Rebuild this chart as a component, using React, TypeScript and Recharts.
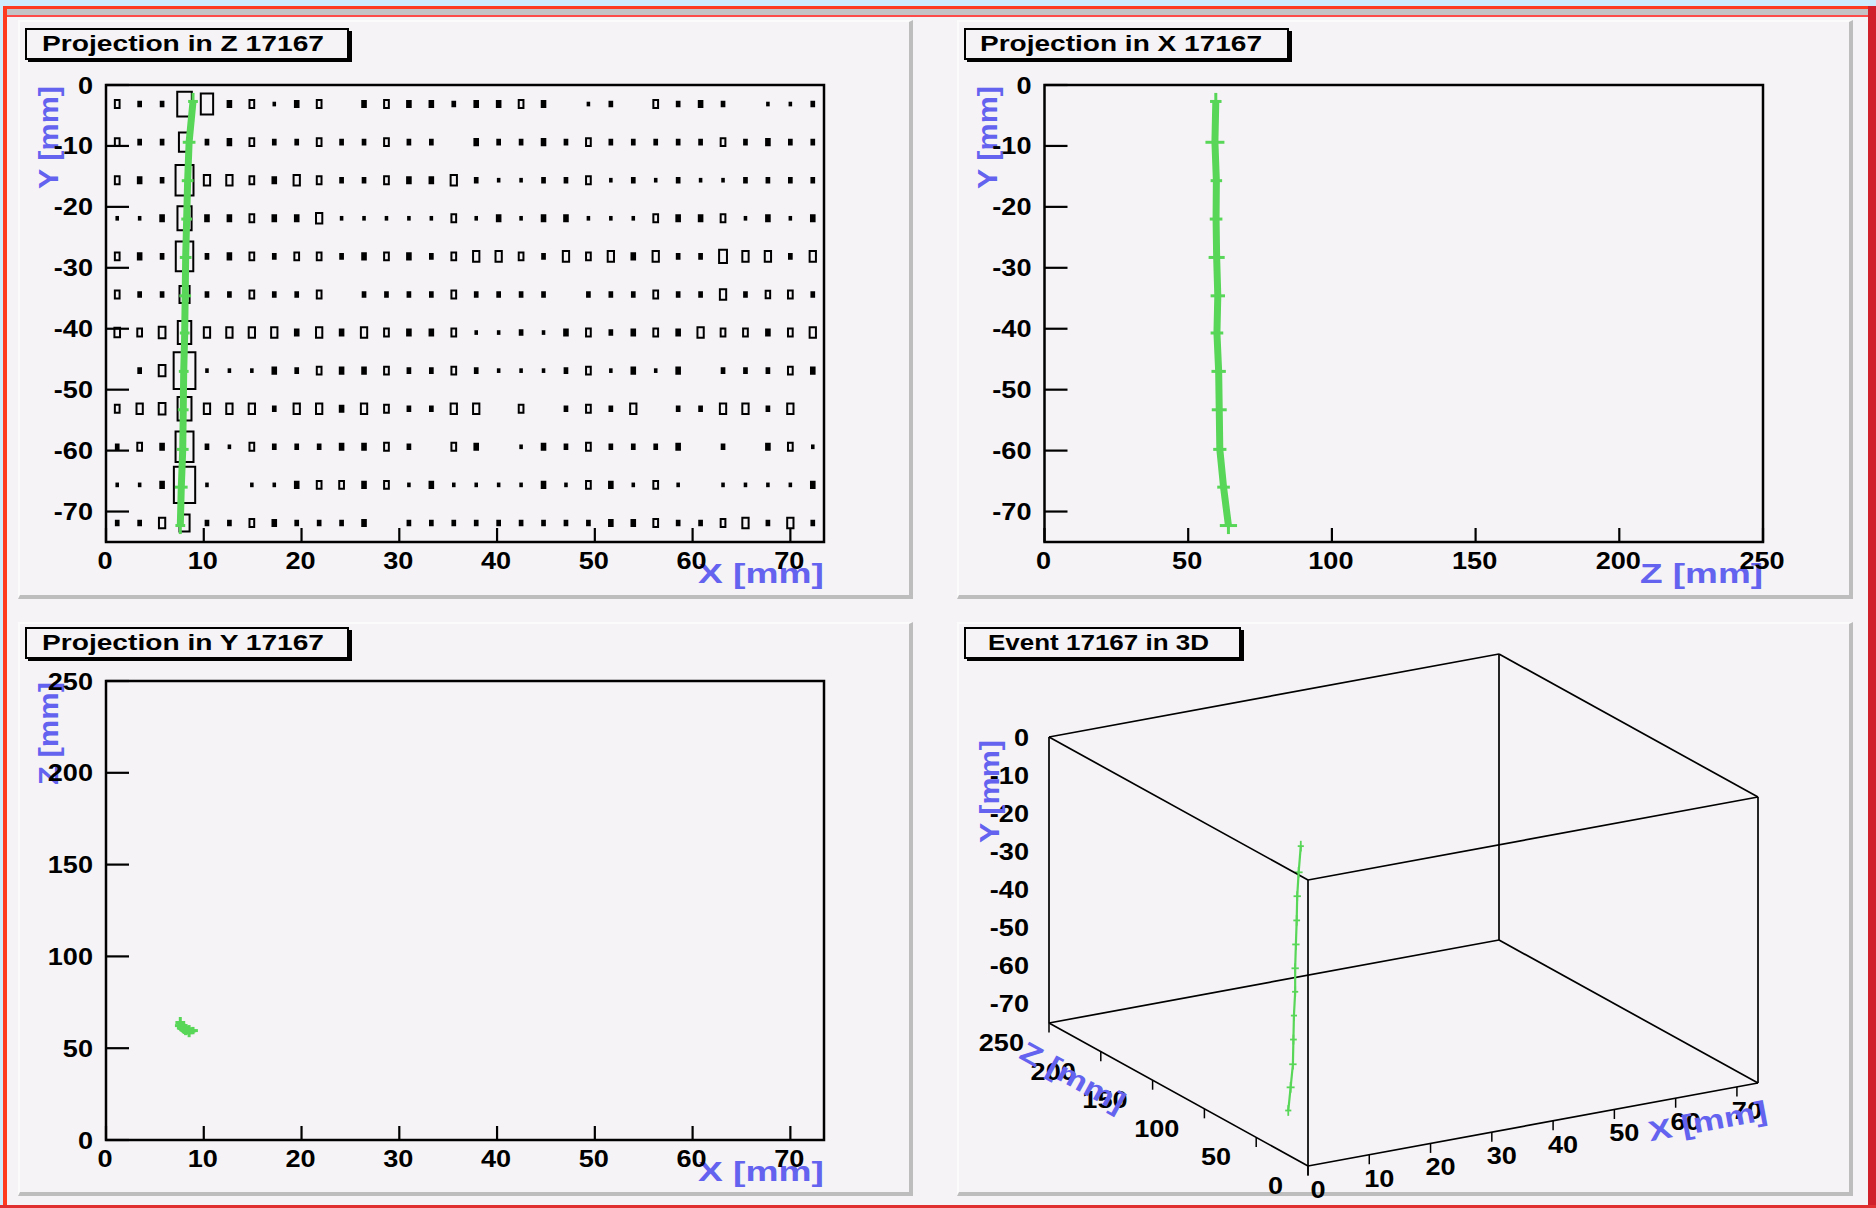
import React from "react";
import { ScatterChart, Scatter, XAxis, YAxis, ErrorBar, ReferenceArea } from "recharts";

// detector ranges (mm) and histogram binning
const X_MAX = 73.44;
const Y_MIN = -75;
const Z_MAX = 250;
const X_BIN = 2.295;
const Y_BIN = 6.25;

// box size per pad (fraction of the bin), one array per Y row from the top
const row01 = [0.21, 0.12, 0.12, 0.65, 0.55, 0.16, 0.21, 0.07, 0.16, 0.21, 0, 0.16, 0.21, 0.16, 0.16, 0.12, 0.16, 0.16, 0.21, 0.16, 0, 0.07, 0.12, 0, 0.21, 0.12, 0.16, 0.12, 0, 0.07, 0.07, 0.12];
const row02 = [0.21, 0.12, 0.12, 0.5, 0.12, 0.16, 0.21, 0.12, 0.12, 0.21, 0.12, 0.12, 0.21, 0.12, 0.12, 0, 0.16, 0.12, 0.12, 0.16, 0.12, 0.21, 0.12, 0.12, 0.12, 0.12, 0.12, 0.21, 0.12, 0.16, 0.12, 0.12];
const row03 = [0.21, 0.16, 0.12, 0.8, 0.28, 0.28, 0.21, 0.16, 0.28, 0.21, 0.12, 0.12, 0.21, 0.16, 0.16, 0.28, 0.12, 0.07, 0.07, 0.12, 0.12, 0.21, 0.07, 0.12, 0.07, 0.12, 0.07, 0.07, 0.12, 0.12, 0.12, 0.12];
const row04 = [0.07, 0.07, 0.16, 0.63, 0.16, 0.16, 0.21, 0.16, 0.16, 0.28, 0.07, 0.07, 0.07, 0.07, 0.07, 0.21, 0.07, 0.16, 0.07, 0.16, 0.16, 0.07, 0.07, 0.07, 0.21, 0.16, 0.16, 0.21, 0.07, 0.16, 0.07, 0.16];
const row05 = [0.21, 0.16, 0.12, 0.78, 0.12, 0.16, 0.21, 0.12, 0.21, 0.21, 0.12, 0.16, 0.21, 0.16, 0.12, 0.21, 0.28, 0.28, 0.21, 0.12, 0.28, 0.21, 0.28, 0.16, 0.28, 0.12, 0.12, 0.35, 0.28, 0.28, 0.12, 0.28];
const row06 = [0.21, 0.12, 0.12, 0.45, 0.12, 0.12, 0.21, 0.12, 0.12, 0.21, 0, 0.12, 0.12, 0.12, 0.12, 0.21, 0.12, 0.12, 0.12, 0.12, 0, 0.12, 0.12, 0.12, 0.21, 0.12, 0.12, 0.28, 0.12, 0.2, 0.21, 0.12];
const row07 = [0.25, 0.21, 0.3, 0.6, 0.28, 0.28, 0.28, 0.28, 0.16, 0.28, 0.16, 0.28, 0.21, 0.16, 0.16, 0.21, 0.07, 0.07, 0.12, 0.07, 0.16, 0.21, 0.12, 0.16, 0.21, 0.16, 0.28, 0.21, 0.21, 0.16, 0.21, 0.28];
const row08 = [0, 0.12, 0.3, 0.97, 0.07, 0.07, 0.07, 0.16, 0.12, 0.21, 0.16, 0.16, 0.21, 0.12, 0.12, 0.21, 0.12, 0.07, 0.07, 0.07, 0.12, 0.21, 0.07, 0.16, 0.07, 0.16, 0, 0.12, 0.12, 0.12, 0.21, 0.16];
const row09 = [0.21, 0.28, 0.3, 0.62, 0.28, 0.28, 0.28, 0.12, 0.28, 0.28, 0.16, 0.28, 0.21, 0.12, 0.12, 0.28, 0.28, 0, 0.21, 0, 0.12, 0.21, 0.12, 0.28, 0, 0.12, 0.12, 0.28, 0.28, 0.12, 0.28, 0];
const row10 = [0.12, 0.21, 0.16, 0.8, 0.12, 0.07, 0.21, 0.12, 0.12, 0.12, 0.16, 0.16, 0.21, 0.12, 0, 0.21, 0.16, 0, 0.07, 0.16, 0.12, 0.21, 0.12, 0.12, 0.12, 0.16, 0, 0.12, 0, 0.16, 0.21, 0.07];
const row11 = [0.07, 0.07, 0.16, 0.95, 0.07, 0, 0.07, 0.07, 0.16, 0.21, 0.21, 0.16, 0.21, 0.07, 0.16, 0.07, 0.07, 0.07, 0.07, 0.16, 0.07, 0.21, 0.16, 0.07, 0.21, 0.07, 0, 0.07, 0.07, 0.07, 0.07, 0.16];
const row12 = [0.12, 0.12, 0.28, 0.45, 0.12, 0.12, 0.21, 0.16, 0.12, 0.12, 0.12, 0.16, 0, 0.12, 0.12, 0.12, 0.12, 0.12, 0.12, 0.12, 0.12, 0.12, 0.16, 0.16, 0.21, 0.12, 0.12, 0.21, 0.28, 0.12, 0.28, 0.12];
const boxRows = [row01, row02, row03, row04, row05, row06, row07, row08, row09, row10, row11, row12];

// reconstructed track hits
const hitY = [-2.7, -9.4, -15.7, -22.0, -28.3, -34.6, -40.7, -47.0, -53.3, -59.8, -66.0, -72.3];
const hitX = [8.9, 8.5, 8.35, 8.25, 8.15, 8.1, 8.05, 7.95, 7.9, 7.85, 7.7, 7.6];
const hitZ = [59.6, 59.3, 59.8, 59.7, 59.9, 60.3, 60.0, 60.6, 60.8, 61.0, 62.3, 64.0];
const errX = [0.5, 0.65, 0.6, 0.55, 0.6, 0.6, 0.5, 0.5, 0.55, 0.6, 0.65, 0.5];
const errY = [1.4, 1.4, 1.3, 1.4, 1.4, 1.3, 1.4, 1.4, 1.3, 1.4, 1.4, 1.4];
const errZ = [2.0, 3.3, 2.0, 2.2, 2.8, 2.5, 2.2, 2.5, 2.6, 2.3, 2.2, 3.0];

const ticksX = [0, 10, 20, 30, 40, 50, 60, 70];
const ticksY = [0, -10, -20, -30, -40, -50, -60, -70];
const ticksZ = [0, 50, 100, 150, 200, 250];

const BG = "#F6F3F6";
const GREEN = "#58D658";
const BLUE = "#6363EF";
const FONT = '"Liberation Sans", Arial, Helvetica, sans-serif';

const boxes = boxRows.flatMap((row, r) =>
  row
    .map((v, c) => ({ x: (c + 0.5) * X_BIN, y: -(r + 0.5) * Y_BIN, v }))
    .filter((b) => b.v > 0)
);

const trackZ = hitY.map((y, i) => ({ h: hitX[i], v: y, eh: errX[i], ev: errY[i] }));
const trackX = hitY.map((y, i) => ({ h: hitZ[i], v: y, eh: errZ[i], ev: errY[i] }));
const trackY = hitY.map((_, i) => ({ h: hitX[i], v: hitZ[i], eh: errX[i], ev: errZ[i] }));

const noDot = () => <g />;

const TickText = ({ x, y, anchor, children }: any) => (
  <text
    transform={`translate(${x},${y}) scale(1.13,1)`}
    textAnchor={anchor}
    fontSize={24}
    fontWeight="bold"
    fontFamily={FONT}
    fill="#000"
  >
    {children}
  </text>
);

const TitleText = ({ x, y, anchor, angle, len, children }: any) => (
  <text
    transform={`translate(${x},${y}) rotate(${angle})`}
    textAnchor={anchor}
    fontSize={28}
    fontWeight="bold"
    fontFamily={FONT}
    fill={BLUE}
    textLength={len}
    lengthAdjust="spacingAndGlyphs"
  >
    {children}
  </text>
);

const LeftTick = (p: any) => (
  <g>
    <line x1={p.x} x2={p.x + 23} y1={p.y} y2={p.y} stroke="#000" strokeWidth={2.2} />
    <TickText x={p.x - 13} y={p.y + 8.5} anchor="end">{p.payload.value}</TickText>
  </g>
);

const BottomTick = (p: any) => (
  <g>
    <line x1={p.x} x2={p.x} y1={p.y} y2={p.y - 14} stroke="#000" strokeWidth={2.2} />
    <TickText x={p.x - 1} y={p.y + 27} anchor="middle">{p.payload.value}</TickText>
  </g>
);

const Pad2D = ({ pos, xDomain, yDomain, xTicks, yTicks, xTitle, yTitle, xLen, yLen, track, cells }: any) => (
  <div style={{ position: "absolute", left: pos.left, top: pos.top }}>
    <ScatterChart width={pos.width} height={pos.height} margin={pos.margin}>
      <XAxis
        type="number"
        dataKey="h"
        domain={xDomain}
        ticks={xTicks}
        interval={0}
        axisLine={false}
        tickLine={false}
        tickSize={0}
        tickMargin={0}
        height={50}
        tick={(p: any) => <BottomTick {...p} />}
      />
      <YAxis
        type="number"
        dataKey="v"
        domain={yDomain}
        ticks={yTicks}
        interval={0}
        axisLine={false}
        tickLine={false}
        tickSize={0}
        tickMargin={0}
        width={70}
        tick={(p: any) => <LeftTick {...p} />}
      />
      {cells &&
        cells.map((b: any, i: number) => (
          <ReferenceArea
            key={i}
            x1={b.x - (b.v * X_BIN) / 2}
            x2={b.x + (b.v * X_BIN) / 2}
            y1={b.y - (b.v * Y_BIN) / 2}
            y2={b.y + (b.v * Y_BIN) / 2}
            fill={b.v < 0.18 ? "#000" : "none"}
            fillOpacity={1}
            stroke="#000"
            strokeWidth={2}
            strokeOpacity={1}
            ifOverflow="visible"
          />
        ))}
      <ReferenceArea
        x1={xDomain[0]}
        x2={xDomain[1]}
        y1={yDomain[0]}
        y2={yDomain[1]}
        fill="none"
        fillOpacity={0}
        stroke="#000"
        strokeWidth={2.5}
        strokeOpacity={1}
        ifOverflow="visible"
      />
      <Scatter
        data={track}
        fill={GREEN}
        stroke={GREEN}
        strokeWidth={7}
        line={{ stroke: GREEN, strokeWidth: 7 }}
        shape={noDot}
        isAnimationActive={false}
      >
        <ErrorBar dataKey="eh" direction="x" width={0} stroke={GREEN} strokeWidth={3} />
        <ErrorBar dataKey="ev" direction="y" width={0} stroke={GREEN} strokeWidth={3} />
      </Scatter>
      <Scatter
        data={[{ h: xDomain[1], v: yDomain[0] }]}
        isAnimationActive={false}
        shape={(p: any) => (
          <TitleText x={p.cx} y={p.cy + 41} anchor="end" angle={0} len={xLen}>
            {xTitle}
          </TitleText>
        )}
      />
      <Scatter
        data={[{ h: xDomain[0], v: yDomain[1] }]}
        isAnimationActive={false}
        shape={(p: any) => (
          <TitleText x={p.cx - 48} y={p.cy + 1} anchor="end" angle={-90} len={yLen}>
            {yTitle}
          </TitleText>
        )}
      />
    </ScatterChart>
  </div>
);

// 3D view: screen position of the (x, y, z) detector point
const VIEW = {
  ox: 1308,
  oy: 1166,
  xx: 450 / X_MAX,
  xy: -83 / X_MAX,
  zx: -259 / Z_MAX,
  zy: -143 / Z_MAX,
  yy: 286 / 75,
};
const project = (x: number, y: number, z: number) => ({
  sx: VIEW.ox + x * VIEW.xx + z * VIEW.zx,
  sy: VIEW.oy + x * VIEW.xy + z * VIEW.zy - (y - Y_MIN) * VIEW.yy,
});

const corners: [number, number, number][] = [
  [0, Y_MIN, 0],
  [X_MAX, Y_MIN, 0],
  [X_MAX, Y_MIN, Z_MAX],
  [0, Y_MIN, Z_MAX],
  [0, 0, 0],
  [X_MAX, 0, 0],
  [X_MAX, 0, Z_MAX],
  [0, 0, Z_MAX],
];
const edges = [
  [0, 1], [1, 2], [2, 3], [3, 0],
  [4, 5], [5, 6], [6, 7], [7, 4],
  [0, 4], [1, 5], [2, 6], [3, 7],
];

const track3D = hitY.map((y, i) => ({
  ...project(hitX[i], y, hitZ[i]),
  ex: errX[i] * VIEW.xx,
  ey: errY[i] * VIEW.yy,
}));

const labelsY3D = ticksY.map((v) => ({ ...project(0, v, Z_MAX), text: v }));
const labelsZ3D = ticksZ.map((v) => ({ ...project(0, Y_MIN, v), text: v }));
const labelsX3D = ticksX.map((v) => ({ ...project(v, Y_MIN, 0), text: v }));
const tickMarks3D = [
  ...ticksX.map((v) => [project(v, Y_MIN, 0), project(v, Y_MIN - 2.5, 0)]),
  ...ticksZ.map((v) => [project(0, Y_MIN, v), project(0, Y_MIN - 2.5, v)]),
];

const Z_ANGLE = (Math.atan2(-VIEW.zy, -VIEW.zx) * 180) / Math.PI;
const X_ANGLE = (Math.atan2(VIEW.xy, VIEW.xx) * 180) / Math.PI;

const Pad3D = ({ pos }: any) => (
  <div style={{ position: "absolute", left: pos.left, top: pos.top }}>
    <ScatterChart width={pos.width} height={pos.height} margin={{ top: 0, right: 0, bottom: 0, left: 0 }}>
      <XAxis type="number" dataKey="sx" domain={[pos.left, pos.left + pos.width]} hide height={0} />
      <YAxis type="number" dataKey="sy" domain={[pos.top, pos.top + pos.height]} reversed hide width={0} />
      {edges.map(([a, b], i) => (
        <Scatter
          key={`e${i}`}
          data={[project(...corners[a]), project(...corners[b])]}
          line={{ stroke: "#000", strokeWidth: 1.7 }}
          shape={noDot}
          isAnimationActive={false}
        />
      ))}
      {tickMarks3D.map((seg, i) => (
        <Scatter
          key={`t${i}`}
          data={seg}
          line={{ stroke: "#000", strokeWidth: 1.5 }}
          shape={noDot}
          isAnimationActive={false}
        />
      ))}
      <Scatter
        data={track3D}
        fill={GREEN}
        line={{ stroke: GREEN, strokeWidth: 2.2 }}
        shape={noDot}
        isAnimationActive={false}
      >
        <ErrorBar dataKey="ex" direction="x" width={0} stroke={GREEN} strokeWidth={1.8} />
        <ErrorBar dataKey="ey" direction="y" width={0} stroke={GREEN} strokeWidth={1.8} />
      </Scatter>
      <Scatter
        data={labelsY3D}
        isAnimationActive={false}
        shape={(p: any) => <TickText x={p.cx - 20} y={p.cy + 8.5} anchor="end">{p.payload.text}</TickText>}
      />
      <Scatter
        data={labelsZ3D}
        isAnimationActive={false}
        shape={(p: any) => <TickText x={p.cx - 25} y={p.cy + 28} anchor="end">{p.payload.text}</TickText>}
      />
      <Scatter
        data={labelsX3D}
        isAnimationActive={false}
        shape={(p: any) => <TickText x={p.cx + 10} y={p.cy + 32} anchor="middle">{p.payload.text}</TickText>}
      />
      <Scatter
        data={[project(0, 0, Z_MAX)]}
        isAnimationActive={false}
        shape={(p: any) => (
          <TitleText x={p.cx - 50} y={p.cy + 3} anchor="end" angle={-90} len={103}>Y [mm]</TitleText>
        )}
      />
      <Scatter
        data={[project(0, Y_MIN, 190)]}
        isAnimationActive={false}
        shape={(p: any) => (
          <TitleText x={p.cx - 43} y={p.cy + 28} anchor="middle" angle={Z_ANGLE} len={115}>Z [mm]</TitleText>
        )}
      />
      <Scatter
        data={[project(62.4, Y_MIN, 0)]}
        isAnimationActive={false}
        shape={(p: any) => (
          <TitleText x={p.cx + 19} y={p.cy + 35} anchor="middle" angle={X_ANGLE} len={120}>X [mm]</TitleText>
        )}
      />
    </ScatterChart>
  </div>
);

const PadFrame = ({ left, top, width, height }: any) => (
  <div
    style={{
      position: "absolute",
      left,
      top,
      width,
      height,
      boxSizing: "border-box",
      background: BG,
      borderTop: "2px solid #FCFBFC",
      borderLeft: "2px solid #FCFBFC",
      borderRight: "4px solid #BDBDBD",
      borderBottom: "4px solid #BDBDBD",
    }}
  />
);

const TitleBox = ({ left, top, width, text, textX, textLen }: any) => (
  <svg style={{ position: "absolute", left, top }} width={width + 4} height={36}>
    <rect x={3} y={3} width={width} height={31} fill="#000" />
    <rect x={1} y={1} width={width - 2} height={30} fill={BG} stroke="#000" strokeWidth={2} />
    <text
      x={textX}
      y={23}
      fontSize={22}
      fontWeight="bold"
      fontFamily={FONT}
      fill="#000"
      textLength={textLen}
      lengthAdjust="spacingAndGlyphs"
    >
      {text}
    </text>
  </svg>
);

const pad1 = { left: 18, top: 20, width: 895, height: 579, margin: { top: 65, right: 89, left: 18, bottom: 7 } };
const pad2 = { left: 957, top: 20, width: 896, height: 579, margin: { top: 65, right: 90, left: 17.5, bottom: 7 } };
const pad3 = { left: 18, top: 622, width: 895, height: 574, margin: { top: 59, right: 89, left: 18, bottom: 6 } };
const pad4 = { left: 957, top: 622, width: 896, height: 574 };
// the 3D drawing may run past the pad's lower edge, as in ROOT
const view3D = { left: 957, top: 622, width: 896, height: 586 };

export default function App() {
  const strip = (style: any) => <div style={{ position: "absolute", ...style }} />;
  return (
    <div
      style={{
        position: "absolute",
        left: 0,
        top: 0,
        width: 1876,
        height: 1208,
        overflow: "hidden",
        background: BG,
        fontFamily: FONT,
      }}
    >
      {strip({ left: 0, top: 0, width: 1876, height: 6, background: "#CDEBFA" })}
      {strip({ left: 0, top: 6, width: 1876, height: 3, background: "#FF3B1F" })}
      {strip({ left: 0, top: 9, width: 1876, height: 6, background: "#C4C2C4" })}
      {strip({ left: 0, top: 15, width: 1876, height: 2, background: "#FF4A4A" })}
      {strip({ left: 0, top: 6, width: 3, height: 1202, background: "#CDEBFA" })}
      {strip({ left: 3, top: 6, width: 4, height: 1202, background: "#FF3B1F" })}
      {strip({ left: 1868, top: 6, width: 8, height: 1202, background: "#D0202A" })}

      <PadFrame {...pad1} />
      <PadFrame {...pad2} />
      <PadFrame {...pad3} />
      <PadFrame {...pad4} />

      <Pad2D
        pos={pad1}
        xDomain={[0, X_MAX]}
        yDomain={[Y_MIN, 0]}
        xTicks={ticksX}
        yTicks={ticksY}
        xTitle="X [mm]"
        yTitle="Y [mm]"
        xLen={126}
        yLen={103}
        track={trackZ}
        cells={boxes}
      />
      <Pad2D
        pos={pad2}
        xDomain={[0, Z_MAX]}
        yDomain={[Y_MIN, 0]}
        xTicks={ticksZ}
        yTicks={ticksY}
        xTitle="Z [mm]"
        yTitle="Y [mm]"
        xLen={123}
        yLen={103}
        track={trackX}
      />
      <Pad2D
        pos={pad3}
        xDomain={[0, X_MAX]}
        yDomain={[0, Z_MAX]}
        xTicks={ticksX}
        yTicks={ticksZ}
        xTitle="X [mm]"
        yTitle="Z [mm]"
        xLen={126}
        yLen={103}
        track={trackY}
      />
      <Pad3D pos={view3D} />

      {strip({ left: 0, top: 1205, width: 1876, height: 3, background: "#E03030" })}

      <TitleBox left={25} top={28} width={324} text="Projection in Z 17167" textX={17} textLen={282} />
      <TitleBox left={964} top={28} width={325} text="Projection in X 17167" textX={16} textLen={282} />
      <TitleBox left={25} top={627} width={324} text="Projection in Y 17167" textX={17} textLen={282} />
      <TitleBox left={964} top={627} width={277} text="Event 17167 in 3D" textX={24} textLen={221} />
    </div>
  );
}
